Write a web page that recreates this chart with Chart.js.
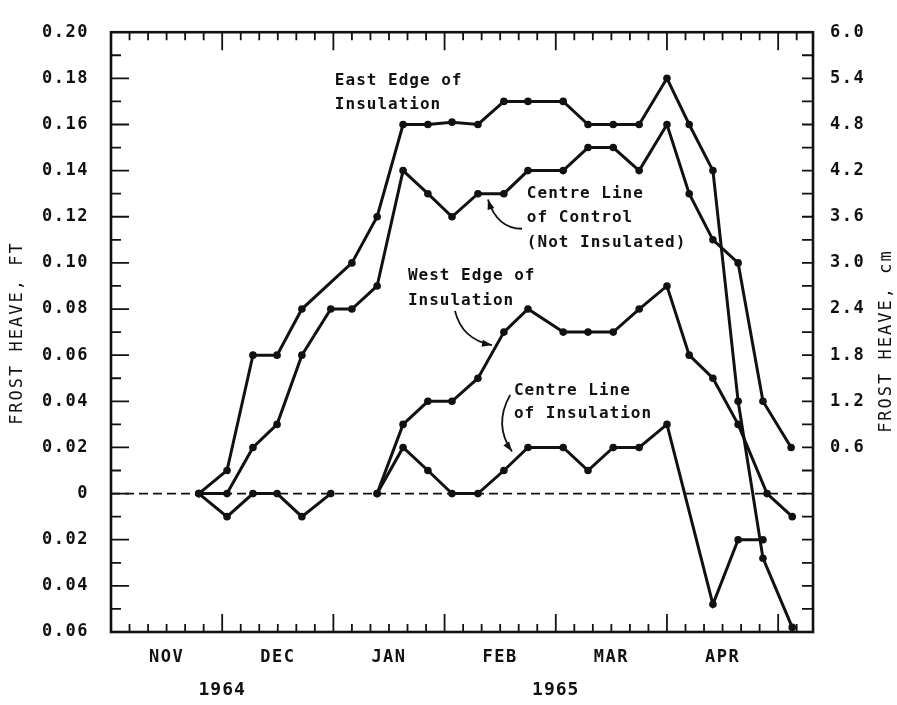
<!DOCTYPE html>
<html>
<head>
<meta charset="utf-8">
<script src="https://cdn.jsdelivr.net/npm/chart.js@4.4.1/dist/chart.umd.min.js"></script>
<style>
  html, body { margin: 0; padding: 0; background: #fff; }
</style>
</head>
<body>
<canvas id="heave" width="897" height="705"></canvas>
<script>
// x = days from 1 Nov 1964, every month drawn 30 days wide
const eastDays = [23.7, 31.3, 38.3, 44.8, 51.5, 65.0, 71.8, 78.8, 85.5, 92.0, 99.0, 106.0, 112.5, 122.0, 128.7, 135.5, 142.5, 150.0, 156.0, 162.4, 169.2, 175.9, 183.8];
const eastHeave = [0, 0.01, 0.06, 0.06, 0.08, 0.10, 0.12, 0.16, 0.16, 0.161, 0.16, 0.17, 0.17, 0.17, 0.16, 0.16, 0.16, 0.18, 0.16, 0.14, 0.04, -0.028, -0.058];

const controlDays = [23.7, 31.3, 38.3, 44.8, 51.5, 59.3, 65.0, 71.8, 78.8, 85.5, 92.0, 99.0, 106.0, 112.5, 122.0, 128.7, 135.5, 142.5, 150.0, 156.0, 162.4, 169.2, 175.9, 183.5];
const controlHeave = [0, 0, 0.02, 0.03, 0.06, 0.08, 0.08, 0.09, 0.14, 0.13, 0.12, 0.13, 0.13, 0.14, 0.14, 0.15, 0.15, 0.14, 0.16, 0.13, 0.11, 0.10, 0.04, 0.02];

const westDays = [71.8, 78.8, 85.5, 92.0, 99.0, 106.0, 112.5, 122.0, 128.7, 135.5, 142.5, 150.0, 156.0, 162.4, 169.2, 177.0, 183.8];
const westHeave = [0, 0.03, 0.04, 0.04, 0.05, 0.07, 0.08, 0.07, 0.07, 0.07, 0.08, 0.09, 0.06, 0.05, 0.03, 0, -0.01];

const centreDays = [23.7, 31.3, 38.3, 44.8, 51.5, 59.3, 65.0, 71.8, 78.8, 85.5, 92.0, 99.0, 106.0, 112.5, 122.0, 128.7, 135.5, 142.5, 150.0, 162.4, 169.2, 175.9];
const centreHeave = [0, -0.01, 0, 0, -0.01, 0, null, 0, 0.02, 0.01, 0, 0, 0.01, 0.02, 0.02, 0.01, 0.02, 0.02, 0.03, -0.048, -0.02, -0.02];

const monthTicks = [15, 45, 75, 105, 135, 165];
const monthLabels = ['NOV', 'DEC', 'JAN', 'FEB', 'MAR', 'APR'];
const yearTicks = [30, 120];
const yearLabels = ['1964', '1965'];

const ftTicks = [-0.06, -0.04, -0.02, 0, 0.02, 0.04, 0.06, 0.08, 0.10, 0.12, 0.14, 0.16, 0.18, 0.20];
const ftLabels = ['0.06', '0.04', '0.02', '0', '0.02', '0.04', '0.06', '0.08', '0.10', '0.12', '0.14', '0.16', '0.18', '0.20'];
const cmTicks = [0.02, 0.04, 0.06, 0.08, 0.10, 0.12, 0.14, 0.16, 0.18, 0.20];
const cmLabels = ['0.6', '1.2', '1.8', '2.4', '3.0', '3.6', '4.2', '4.8', '5.4', '6.0'];

const ink = '#111';
const mono = '"DejaVu Sans Mono", "Liberation Mono", monospace';

// labels placed in data units (day, ft)
const notes = [
    { lines: ['East Edge of', 'Insulation'], day: 60.4, ft: 0.179, step: 24 },
    { lines: ['Centre Line', 'of Control', '(Not Insulated)'], day: 112.2, ft: 0.130, step: 24.5 },
    { lines: ['West Edge of', 'Insulation'], day: 80.1, ft: 0.0945, step: 25 },
    { lines: ['Centre Line', 'of Insulation'], day: 108.7, ft: 0.0445, step: 23 }
];
const arrows = [
    { from: [110.9, 0.1148], via: [104.2, 0.1148], to: [101.7, 0.1275] },
    { from: [92.8, 0.0792], via: [94.7, 0.0667], to: [102.8, 0.0644] },
    { from: [107.7, 0.0428], via: [103.1, 0.0297], to: [108.2, 0.0182] }
];

function points(days, vals) {
    return days.map((d, i) => ({ x: d, y: vals[i] }));
}

function series(label, days, vals) {
    return {
        label: label,
        data: points(days, vals),
        borderColor: ink,
        borderWidth: 3,
        pointRadius: 3.8,
        pointBackgroundColor: ink,
        pointBorderWidth: 0,
        tension: 0,
        spanGaps: false
    };
}

const framePlugin = {
    id: 'frame',
    beforeDraw(chart) {
        chart.ctx.letterSpacing = '1.5px';
    },
    beforeDatasetsDraw(chart) {
        const { ctx, chartArea: a, scales: { x, y } } = chart;
        ctx.save();
        ctx.strokeStyle = ink;

        // zero line
        const y0 = y.getPixelForValue(0);
        ctx.lineWidth = 1.8;
        ctx.setLineDash([9, 5]);
        ctx.beginPath();
        ctx.moveTo(a.left, y0);
        ctx.lineTo(a.right, y0);
        ctx.stroke();
        ctx.setLineDash([]);

        // inward ticks
        ctx.lineWidth = 1.8;
        ctx.beginPath();
        for (let i = -6; i <= 20; i++) {
            const py = y.getPixelForValue(i / 100);
            const len = i % 2 === 0 ? 18 : 10;
            ctx.moveTo(a.left, py);
            ctx.lineTo(a.left + len, py);
            ctx.moveTo(a.right, py);
            ctx.lineTo(a.right - 11, py);
        }
        for (let d = 5; d < x.max; d += 5) {
            const px = x.getPixelForValue(d);
            const len = d % 30 === 0 ? 18 : 8;
            ctx.moveTo(px, a.top);
            ctx.lineTo(px, a.top + len);
            ctx.moveTo(px, a.bottom);
            ctx.lineTo(px, a.bottom - len);
        }
        ctx.stroke();

        // frame
        ctx.lineWidth = 2.6;
        ctx.strokeRect(a.left, a.top, a.right - a.left, a.bottom - a.top);
        ctx.restore();
    },
    afterDraw(chart) {
        const { ctx, chartArea: a, scales: { x, y } } = chart;
        ctx.save();
        ctx.fillStyle = ink;
        ctx.strokeStyle = ink;

        // notes
        ctx.font = 'bold 16px ' + mono;
        ctx.letterSpacing = '1px';
        ctx.textAlign = 'left';
        ctx.textBaseline = 'middle';
        notes.forEach(n => {
            const px = x.getPixelForValue(n.day);
            const py = y.getPixelForValue(n.ft);
            n.lines.forEach((t, i) => ctx.fillText(t, px, py + i * n.step));
        });

        // arrows
        ctx.lineWidth = 1.8;
        arrows.forEach(r => {
            const p0 = [x.getPixelForValue(r.from[0]), y.getPixelForValue(r.from[1])];
            const p1 = [x.getPixelForValue(r.via[0]), y.getPixelForValue(r.via[1])];
            const p2 = [x.getPixelForValue(r.to[0]), y.getPixelForValue(r.to[1])];
            ctx.beginPath();
            ctx.moveTo(p0[0], p0[1]);
            ctx.quadraticCurveTo(p1[0], p1[1], p2[0], p2[1]);
            ctx.stroke();
            const ang = Math.atan2(p2[1] - p1[1], p2[0] - p1[0]);
            ctx.beginPath();
            ctx.moveTo(p2[0], p2[1]);
            ctx.lineTo(p2[0] - 10 * Math.cos(ang) + 3.5 * Math.sin(ang), p2[1] - 10 * Math.sin(ang) - 3.5 * Math.cos(ang));
            ctx.lineTo(p2[0] - 10 * Math.cos(ang) - 3.5 * Math.sin(ang), p2[1] - 10 * Math.sin(ang) + 3.5 * Math.cos(ang));
            ctx.closePath();
            ctx.fill();
        });

        // years
        ctx.font = 'bold 18px ' + mono;
        ctx.letterSpacing = '1px';
        ctx.textAlign = 'center';
        yearTicks.forEach((d, i) => ctx.fillText(yearLabels[i], x.getPixelForValue(d), 690));

        // axis titles
        ctx.font = '17px ' + mono;
        ctx.letterSpacing = '2px';
        const mid = (a.top + a.bottom) / 2;
        ctx.save();
        ctx.translate(18, mid + 1);
        ctx.rotate(-Math.PI / 2);
        ctx.fillText('FROST HEAVE, FT', 0, 0);
        ctx.restore();
        ctx.save();
        ctx.translate(887, mid + 9);
        ctx.rotate(-Math.PI / 2);
        ctx.fillText('FROST HEAVE, cm', 0, 0);
        ctx.restore();

        ctx.restore();
    }
};

const chart = new Chart(document.getElementById('heave').getContext('2d'), {
    type: 'line',
    data: {
        datasets: [
            series('East Edge of Insulation', eastDays, eastHeave),
            series('Centre Line of Control (Not Insulated)', controlDays, controlHeave),
            series('West Edge of Insulation', westDays, westHeave),
            series('Centre Line of Insulation', centreDays, centreHeave)
        ]
    },
    options: {
        responsive: false,
        animation: false,
        devicePixelRatio: 1,
        layout: { padding: { top: 18, left: 0, right: 0, bottom: 0 } },
        plugins: {
            legend: { display: false },
            tooltip: { enabled: false }
        },
        scales: {
            x: {
                type: 'linear',
                position: 'bottom',
                min: 0,
                max: 189.4,
                grid: { display: false, drawTicks: false },
                border: { display: false },
                afterBuildTicks: s => { s.ticks = monthTicks.map(v => ({ value: v })); },
                afterFit: s => { s.height = 73; },
                ticks: {
                    autoSkip: false,
                    maxRotation: 0,
                    padding: 15,
                    color: ink,
                    font: { family: mono, size: 17, weight: 'bold' },
                    callback: (v, i) => monthLabels[i]
                }
            },
            y: {
                type: 'linear',
                position: 'left',
                min: -0.06,
                max: 0.20,
                grid: { display: false, drawTicks: false },
                border: { display: false },
                afterBuildTicks: s => { s.ticks = ftTicks.map(v => ({ value: v })); },
                afterFit: s => { s.width = 111; },
                ticks: {
                    padding: 22,
                    color: ink,
                    font: { family: mono, size: 17, weight: 'bold' },
                    callback: (v, i) => ftLabels[i]
                }
            },
            y2: {
                type: 'linear',
                position: 'right',
                min: -0.06,
                max: 0.20,
                grid: { display: false, drawTicks: false },
                border: { display: false },
                afterBuildTicks: s => { s.ticks = cmTicks.map(v => ({ value: v })); },
                afterFit: s => { s.width = 84; },
                ticks: {
                    padding: 17,
                    color: ink,
                    font: { family: mono, size: 17, weight: 'bold' },
                    callback: (v, i) => cmLabels[i]
                }
            }
        }
    },
    plugins: [framePlugin]
});
</script>
</body>
</html>
